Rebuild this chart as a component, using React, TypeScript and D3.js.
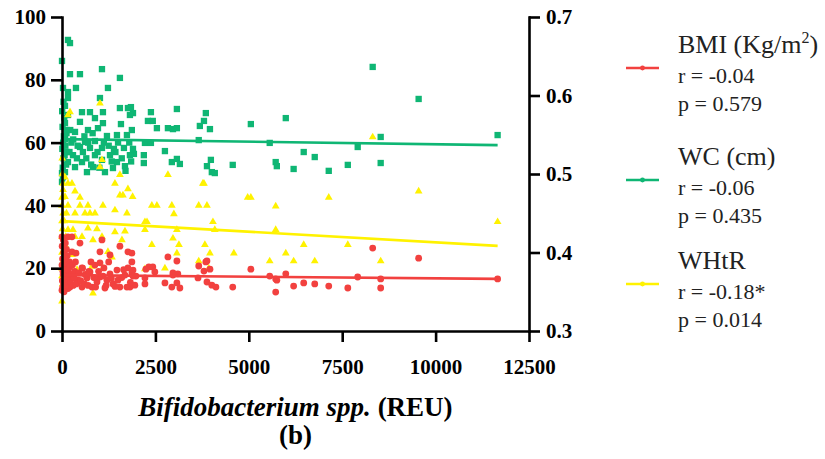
import React, { useRef, useEffect } from "react";
import * as d3 from "d3";

// BMI (Kg/m2) vs Bifidobacterium (REU), left axis
const bmiPoints: [number, number][] = [
  [11660, 16.6], [9546, 23.2], [8316, 26.4], [8530, 16.6], [8530, 13.7], [7915, 17.2],
  [7650, 13.7], [7140, 14.3], [6765, 15], [6470, 15.3], [6200, 14.3], [5990, 18.2],
  [5560, 17.5], [5720, 16.6], [5720, 12.4], [5750, 16.2],
  [2835, 23.6], [3075, 22.3], [1870, 24.8], [1870, 22], [3850, 22], [3880, 22.3],
  [3660, 20.7], [3960, 19.7], [2325, 20.4], [2430, 20.4], [2245, 19.7], [1900, 19.4],
  [2485, 18.8], [2970, 18.5], [3100, 18.2], [3800, 19.1], [5055, 19.7], [1980, 17.5],
  [2220, 16.9], [2970, 17.8], [3640, 16.9], [3880, 15.6], [1950, 14.6], [2220, 15],
  [2755, 15.3], [2940, 14], [3075, 15.3], [3155, 13.7], [4010, 14.6], [4120, 14],
  [4570, 14], [1820, 14],
  [0, 30], [160, 30], [267, 30], [481, 28], [1070, 29], [1016, 25.2], [1284, 24.2],
  [1550, 27], [1765, 25.2], [267, 25.2], [374, 24.8], [775, 22], [535, 20.1], [1016, 21.7],
  [1123, 20.1], [1284, 18.2], [749, 18.8], [1471, 19.4], [1685, 17.8], [1765, 20.1],
  [1872, 18.5], [1497, 16.2], [1364, 15], [1150, 13.7], [1738, 14], [1550, 14], [936, 15.6],
  [1016, 17.2], [668, 16.9], [428, 16.2], [267, 16.9], [535, 14], [214, 14], [401, 15.3],
  [1203, 16.2], [802, 14], [668, 17.8],
  [0, 13], [20, 14], [40, 15], [10, 16], [60, 17], [30, 18], [80, 19], [50, 20], [0, 21],
  [100, 22], [15, 23], [70, 24], [45, 25], [120, 26], [5, 27], [90, 28], [150, 15], [180, 18],
  [130, 20], [200, 22], [160, 13.5], [110, 16.5], [25, 19], [75, 21.5], [140, 24], [190, 16],
  [35, 29], [55, 12.5], [95, 14.5], [170, 19.5], [65, 17.5], [85, 23], [210, 20.5], [230, 15.5],
  [250, 18], [280, 21], [300, 14.5], [320, 17], [340, 19], [360, 22], [380, 15], [450, 18.5],
  [500, 16], [550, 20], [600, 15], [620, 18], [700, 14.5], [720, 19], [850, 17], [880, 21],
  [900, 14], [980, 19], [1100, 17.5], [1180, 14.5], [1250, 22], [1320, 16.8], [1420, 14.2],
  [1600, 17], [1650, 19.5], [1830, 15.5], [1900, 17.5],
];

// WC (cm), left axis
const wcPoints: [number, number][] = [
  [8316, 84.1], [9546, 73.9], [11660, 62.4], [8530, 61.8], [5990, 67.8], [7915, 58.6],
  [6470, 57], [6765, 55.4], [8530, 53.5], [6200, 51.6], [7140, 51], [7650, 52.9],
  [5560, 59.9], [5720, 53.8], [5750, 52.5],
  [1845, 71.3], [1900, 69.4], [2380, 69.7], [3075, 70.7], [3850, 69.4], [3800, 66.9],
  [3690, 65.3], [3960, 64.3], [2300, 66.9], [2430, 66.9], [2540, 64.6], [2835, 64.6],
  [2970, 64.3], [3075, 64.6], [5055, 65.9], [1870, 64], [2220, 59.9], [2380, 59.9],
  [3660, 60.8], [2755, 57.3], [1925, 56.4], [2190, 56], [2190, 53.5], [2940, 53.8],
  [3075, 54.8], [3155, 53.2], [3985, 54.5], [3880, 52.5], [4570, 52.9], [4010, 50.6],
  [4090, 50.3],
  [160, 92.7], [214, 91.7], [0, 86], [214, 81.8], [481, 81.8], [1070, 83.4], [1550, 80.6],
  [374, 77.4], [1230, 77.4], [27, 77.4], [160, 76.1], [160, 74.2], [1016, 74.2], [80, 71.7],
  [535, 69.7], [749, 69.7], [1096, 69.7], [1550, 71], [1765, 71], [160, 68.8], [80, 66.2],
  [481, 66.6], [882, 67.8], [1096, 66.2], [1578, 65.9], [1818, 68.8], [134, 64], [695, 64],
  [963, 64.6], [348, 63.4], [1203, 62.1], [1471, 62.4], [1738, 62.4], [80, 61.1], [615, 60.2],
  [882, 60.5], [481, 58.6], [749, 58.3], [1070, 58.3], [1390, 58], [1658, 58.3], [134, 57],
  [294, 56], [882, 56], [1284, 56], [1818, 56], [160, 53.8], [535, 53.8], [1070, 54.5],
  [1471, 53.8], [348, 52.2], [829, 52.2], [1364, 51.9], [1685, 52.5], [80, 50.6], [668, 50.6],
  [1150, 50.6], [0, 47.5],
  [0, 50.3], [20, 52], [40, 55], [10, 58], [30, 60], [50, 62], [15, 65], [60, 68], [5, 70],
  [40, 73], [25, 49], [70, 56], [90, 59], [110, 53], [120, 63], [200, 57], [250, 60], [220, 64],
  [300, 61], [400, 55], [420, 59], [560, 57], [600, 62], [650, 55], [700, 60], [780, 53],
  [820, 63], [950, 57], [1000, 52], [1120, 60], [1250, 59], [1330, 54], [1430, 57], [1500, 60],
  [1600, 55], [1700, 51], [1800, 60], [1850, 54], [1900, 58],
];

// WHtR, right axis
const whtrPoints: [number, number][] = [
  [8316, 0.547], [9546, 0.478], [11660, 0.439], [7140, 0.47], [6470, 0.41], [7650, 0.41],
  [5990, 0.399], [6200, 0.389], [6765, 0.389], [8530, 0.389], [5720, 0.459], [5720, 0.429],
  [2835, 0.499], [3800, 0.488], [5055, 0.47], [2405, 0.46], [2540, 0.46], [2940, 0.46],
  [3660, 0.46], [3880, 0.46], [2995, 0.449], [2220, 0.439], [2275, 0.439], [4040, 0.439],
  [2220, 0.429], [3075, 0.429], [4090, 0.429], [2970, 0.418], [2405, 0.41], [3130, 0.41],
  [3825, 0.41], [3075, 0.399], [3960, 0.399], [4600, 0.399], [3660, 0.389], [5560, 0.389],
  [2755, 0.38], [2220, 0.379], [3930, 0.38], [3770, 0.488], [4970, 0.47], [1890, 0.471],
  [1417, 0.488], [1765, 0.481], [1550, 0.473], [1631, 0.473], [481, 0.46], [695, 0.46],
  [1096, 0.46], [160, 0.46], [348, 0.45], [615, 0.45], [749, 0.45], [882, 0.45], [27, 0.48],
  [80, 0.471], [1417, 0.454], [1738, 0.45], [160, 0.429], [294, 0.429], [695, 0.431],
  [936, 0.43], [1417, 0.426], [1685, 0.427], [348, 0.42], [535, 0.42], [1070, 0.42],
  [1604, 0.416], [829, 0.416], [80, 0.41], [267, 0.397], [1230, 0.401], [1337, 0.394],
  [80, 0.39], [401, 0.378], [802, 0.382], [1096, 0.38], [829, 0.348], [0, 0.338], [27, 0.352],
  [27, 0.488], [80, 0.496], [1016, 0.59], [214, 0.579], [160, 0.575], [1550, 0.499],
  [1070, 0.518], [1016, 0.509], [348, 0.478], [481, 0.47], [160, 0.488], [267, 0.488],
  [0, 0.46], [0, 0.44], [0, 0.42], [0, 0.4], [0, 0.38], [0, 0.37], [10, 0.5], [5, 0.52],
  [15, 0.43], [30, 0.45], [50, 0.41], [40, 0.39], [20, 0.36], [0, 0.47], [60, 0.44],
  [100, 0.42], [120, 0.45],
];

// fitted regression lines, values at x = fitX[0] and fitX[1]
const fitX = [0, 11660];
const bmiFit = [17.8, 16.6];
const wcFit = [61.1, 59.2];
const whtrFit = [0.44, 0.4084];

const xTicks = [0, 2500, 5000, 7500, 10000, 12500];
const leftTicks = [0, 20, 40, 60, 80, 100];
const rightTicks = [0.3, 0.4, 0.5, 0.6, 0.7];

const legendItems = [
  { title: "BMI (Kg/m", sup: "2", r: "r = -0.04", p: "p = 0.579", color: "#f2413f" },
  { title: "WC (cm)", sup: "", r: "r = -0.06", p: "p = 0.435", color: "#0fb674" },
  { title: "WHtR", sup: "", r: "r = -0.18*", p: "p = 0.014", color: "#fff200" },
];

const RED = "#f2413f";
const GREEN = "#0fb674";
const YELLOW = "#fff200";
const FONT = "'Liberation Serif', 'Times New Roman', serif";

const App = () => {
  const svgRef = useRef<SVGSVGElement>(null);

  useEffect(() => {
    const svg = d3.select(svgRef.current);
    svg.selectAll("*").remove();

    const left = 62, right = 529, top = 17, bottom = 331;

    const x = d3.scaleLinear().domain([0, 12500]).range([left, right]);
    const yL = d3.scaleLinear().domain([0, 100]).range([bottom, top]);
    const yR = d3.scaleLinear().domain([0.3, 0.7]).range([bottom, top]);

    const plot = svg.append("g");

    // WC squares
    plot
      .selectAll(".wc")
      .data(wcPoints)
      .enter()
      .append("path")
      .attr("d", d3.symbol(d3.symbolSquare, 40)())
      .attr("transform", (d) => `translate(${x(d[0])},${yL(d[1])})`)
      .attr("fill", GREEN);

    // WHtR triangles
    plot
      .selectAll(".whtr")
      .data(whtrPoints)
      .enter()
      .append("path")
      .attr("d", d3.symbol(d3.symbolTriangle, 26)())
      .attr("transform", (d) => `translate(${x(d[0])},${yR(d[1])})`)
      .attr("fill", YELLOW);

    // BMI circles
    plot
      .selectAll(".bmi")
      .data(bmiPoints)
      .enter()
      .append("circle")
      .attr("cx", (d) => x(d[0]))
      .attr("cy", (d) => yL(d[1]))
      .attr("r", 3.4)
      .attr("fill", RED);

    // fit lines
    const fitLine = (vals: number[], scale: d3.ScaleLinear<number, number>, color: string) => {
      plot
        .append("line")
        .attr("x1", x(fitX[0]))
        .attr("x2", x(fitX[1]))
        .attr("y1", scale(vals[0]))
        .attr("y2", scale(vals[1]))
        .attr("stroke", color)
        .attr("stroke-width", 2.6);
    };
    fitLine(wcFit, yL, GREEN);
    fitLine(whtrFit, yR, YELLOW);
    fitLine(bmiFit, yL, RED);

    // axes
    const styleAxis = (g: any) => {
      g.select(".domain").attr("stroke", "#000").attr("stroke-width", 2.6);
      g.selectAll(".tick line").attr("stroke", "#000").attr("stroke-width", 2.6);
      g.selectAll(".tick text")
        .attr("fill", "#000")
        .style("font-family", FONT)
        .style("font-weight", "bold")
        .style("font-size", "21px");
    };

    svg
      .append("g")
      .attr("transform", `translate(0,${bottom})`)
      .call(d3.axisBottom(x).tickValues(xTicks).tickSize(11).tickSizeOuter(0).tickPadding(17).tickFormat(d3.format("d")))
      .call(styleAxis);

    svg
      .append("g")
      .attr("transform", `translate(${left},0)`)
      .call(d3.axisLeft(yL).tickValues(leftTicks).tickSize(11).tickSizeOuter(0).tickPadding(5))
      .call(styleAxis);

    svg
      .append("g")
      .attr("transform", `translate(${right},0)`)
      .call(d3.axisRight(yR).tickValues(rightTicks).tickSize(11).tickSizeOuter(0).tickPadding(6).tickFormat(d3.format(".1f")))
      .call(styleAxis);

    svg.selectAll(".domain").attr("stroke-linecap", "square");

    // x title
    const xt = svg
      .append("text")
      .attr("x", (left + right) / 2)
      .attr("y", 416)
      .attr("text-anchor", "middle")
      .style("font-family", FONT)
      .style("font-size", "27px")
      .style("font-weight", "bold");
    xt.append("tspan").style("font-style", "italic").text("Bifidobacterium spp.");
    xt.append("tspan").text(" (REU)");

    svg
      .append("text")
      .attr("x", (left + right) / 2)
      .attr("y", 444)
      .attr("text-anchor", "middle")
      .style("font-family", FONT)
      .style("font-size", "27px")
      .style("font-weight", "bold")
      .text("(b)");

    // legend
    const lg = svg.append("g");
    const offsets = [0, 112, 216];
    legendItems.forEach((it, i) => {
      const g = lg.append("g").attr("transform", `translate(0,${offsets[i]})`);
      g.append("line")
        .attr("x1", 626)
        .attr("x2", 659)
        .attr("y1", 68)
        .attr("y2", 68)
        .attr("stroke", it.color)
        .attr("stroke-width", 2.6);
      g.append("circle").attr("cx", 642.5).attr("cy", 68).attr("r", 2.4).attr("fill", it.color);
      const t = g
        .append("text")
        .attr("x", 678)
        .attr("y", 53)
        .attr("fill", "#222")
        .style("font-family", FONT)
        .style("font-size", "26px");
      t.append("tspan").text(it.title);
      if (it.sup) {
        t.append("tspan").attr("dy", -10).style("font-size", "16px").text(it.sup);
        t.append("tspan").attr("dy", 10).text(")");
      }
      g.append("text")
        .attr("x", 678)
        .attr("y", 83)
        .attr("fill", "#222")
        .style("font-family", FONT)
        .style("font-size", "22px")
        .text(it.r);
      g.append("text")
        .attr("x", 678)
        .attr("y", 111)
        .attr("fill", "#222")
        .style("font-family", FONT)
        .style("font-size", "22px")
        .text(it.p);
    });
  }, []);

  return (
    <svg
      ref={svgRef}
      width={825}
      height={459}
      style={{ position: "absolute", left: 0, top: 0, background: "#fff" }}
    />
  );
};

export default App;
